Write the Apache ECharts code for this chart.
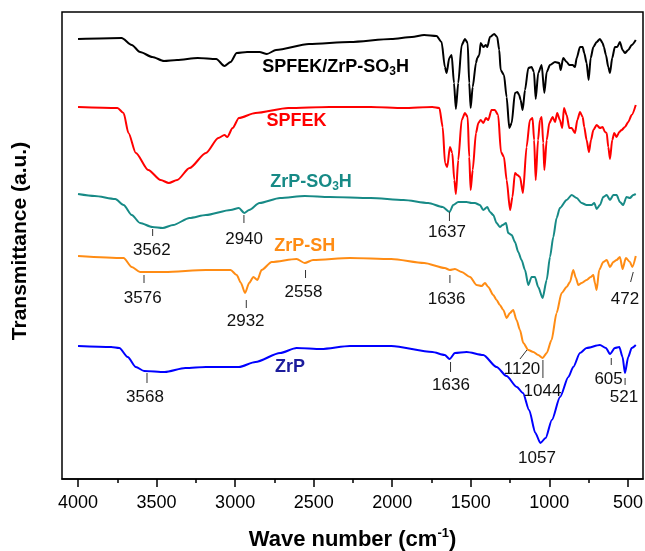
<!DOCTYPE html>
<html>
<head>
<meta charset="utf-8">
<script src="https://cdn.jsdelivr.net/npm/echarts@6/dist/echarts.min.js"></script>
<style>
html,body{margin:0;padding:0;background:#fff;}
#chart{width:645px;height:551px;}
</style>
</head>
<body>
<div id="chart"></div>
<script>
// ---- Data (wave number in cm-1, transmittance in arbitrary stacked units) ----
const waveBlack = [4000,3723,3658,3605,3527,3453,3370,3238,3120,3068,3029,2990,2924,2845,2798,2740,2530,2269,2006,1875,1797,1718,1686,1665,1654,1637,1622,1607,1595,1580,1558,1537,1520,1510,1501,1488,1467,1459,1446,1437,1420,1404,1395,1378,1351,1332,1319,1310,1289,1272,1255,1240,1219,1204,1192,1183,1170,1155,1134,1113,1098,1087,1071,1049,1032,1017,996,964,937,928,912,890,873,852,837,826,805,788,778,763,750,737,720,699,678,661,653,640,625,614,600,583,568,551,534,519,498,476,450];
const valBlack = [440,441,434,427,422,418,419,421,420,413,417,426,427,427,425,429,435,437,440,442,444,443,437,412,406,421,424,396,370,396,434,440,436,396,371,392,416,421,424,436,432,434,432,442,445,442,429,409,404,382,351,356,386,387,384,379,369,389,411,412,407,380,406,414,386,407,414,417,416,409,421,417,414,414,412,421,432,432,426,416,399,421,432,437,440,436,432,424,412,406,421,432,432,437,429,426,429,434,439];

const waveRed = [4000,3749,3710,3679,3632,3553,3474,3422,3369,3290,3186,3107,3068,3050,3016,2976,2871,2662,2400,2137,1928,1745,1700,1679,1664,1650,1633,1618,1605,1595,1580,1558,1537,1520,1510,1501,1488,1467,1452,1437,1420,1404,1389,1368,1347,1326,1308,1289,1272,1250,1235,1219,1204,1187,1168,1145,1124,1107,1097,1087,1072,1060,1049,1039,1032,1017,1000,979,964,950,933,918,907,890,873,858,837,822,805,788,778,763,748,735,720,699,678,661,646,635,625,614,600,587,572,555,540,519,498,476,450];
const valRed = [372,371,366,346,326,309,299,296,299,311,326,341,344,342,351,361,366,371,372,372,371,372,371,352,316,312,332,326,299,285,319,359,366,362,322,289,309,346,356,359,356,361,359,369,369,364,327,322,299,269,282,306,304,302,286,332,359,361,339,299,339,359,362,336,309,339,356,362,357,366,359,351,371,364,351,351,346,359,367,362,352,339,327,339,349,354,351,352,347,346,332,320,339,346,342,347,349,352,357,364,374];

const waveTeal = [4000,3894,3763,3710,3658,3605,3527,3461,3395,3290,3186,3029,2976,2942,2911,2845,2714,2557,2400,2137,1928,1771,1679,1635,1612,1580,1527,1495,1474,1442,1421,1395,1378,1357,1336,1315,1297,1276,1262,1240,1219,1198,1177,1155,1134,1113,1092,1071,1043,1017,996,975,954,933,890,858,826,795,763,731,714,699,678,657,635,614,593,572,551,530,509,487,466,450];
const valTeal = [285,283,280,274,264,256,252,251,254,261,264,269,271,266,269,276,281,283,282,281,279,276,272,267,274,277,277,276,276,274,269,272,267,264,256,252,254,256,246,244,237,227,219,209,194,202,202,192,181,199,222,242,261,271,279,284,281,276,274,274,276,270,274,282,284,279,284,284,277,274,282,281,284,285];

const waveOrange = [4000,3710,3658,3605,3448,3186,3029,2990,2963,2937,2911,2884,2858,2832,2767,2609,2557,2504,2269,2006,1797,1666,1633,1601,1558,1505,1463,1431,1410,1389,1357,1336,1315,1293,1272,1251,1230,1209,1187,1166,1134,1102,1071,1043,1017,986,954,922,890,869,848,831,816,795,763,737,720,710,699,683,657,635,614,593,572,551,534,513,487,472,450];
const valOrange = [223,221,212,207,207,209,209,204,196,186,196,202,199,209,217,220,216,219,221,220,216,211,209,210,207,202,194,193,196,192,184,179,174,169,161,166,169,159,149,136,129,127,124,121,126,139,166,186,192,197,209,201,194,196,199,202,204,196,189,209,217,219,212,217,219,222,210,221,217,212,223];

const waveBlue = [4000,3789,3737,3684,3632,3579,3448,3317,3186,2976,2871,2714,2609,2452,2269,2006,1745,1666,1635,1601,1527,1421,1336,1273,1207,1168,1129,1089,1057,1024,984,932,879,848,805,763,678,640,614,583,555,534,519,498,476,450];
const valBlue = [133,132,131,122,112,108,107,111,112,112,117,126,131,130,133,133,127,124,120,126,127,124,112,103,92,86,69,46,36,41,59,82,102,112,126,131,134,131,125,131,132,122,106,122,131,134];

const seriesNames = ['SPFEK/ZrP-SO3H','SPFEK','ZrP-SO3H','ZrP-SH','ZrP'];
const seriesColors = ['#000000','#ff0000','#178a86','#ff8c14','#0000ff'];

// axis tick labels
const majorTicks = [500,1000,1500,2000,2500,3000,3500,4000];
const minorTicks = [750,1250,1750,2250,2750,3250,3750];

// peak annotations: text, tick start [wave,val], tick end [wave,val], label [wave,val]
const annText = ['3562','2940','1637','3576','2932','2558','1636','472','1120','1044','3568','1636','1057','605','521'];
const annTickA = [[3525,250],[2944,264],[1636,267],[3580,204],[2929,179],[2552,209],[1633,204],[466,207],[1143,129],[1041,119],[3561,106],[1629,117],[1079,21],[606,121],[518,101]];
const annTickB = [[3525,243],[2944,256],[1636,258],[3580,196],[2929,171],[2552,201],[1633,196],[483,197],[1187,120],[1041,101],[3561,96],[1629,107],[1079,21],[606,114],[518,94]];
const annLabel = [[3530,229],[2943,240],[1652,247],[3588,181],[2933,158],[2565,187],[1654,180],[519,180],[1174,110],[1044,88],[3574,82],[1626,94],[1079,21],[623,100],[525,82]];

// curve name labels
const nameLabelText = ['SPFEK/ZrP-SO{sub|3}H','SPFEK','ZrP-SO{sub|3}H','ZrP-SH','ZrP'];
const nameLabelPos = [[2360,412],[2609,358],[2517,297],[2557,233],[2651,112]];
const nameLabelColor = ['#000000','#ff0000','#178a86','#ff8c14','#1c1c9c'];

const FONT = '"Liberation Sans", Arial, Helvetica, sans-serif';

function pairs(w, v){ return w.map((x,i)=>[x, v[i]]); }
const allWaves = [waveBlack, waveRed, waveTeal, waveOrange, waveBlue];
const allVals = [valBlack, valRed, valTeal, valOrange, valBlue];

const chart = echarts.init(document.getElementById('chart'), null, {renderer:'canvas'});

const lineSeries = allWaves.map((w,i)=>({
  type:'line', name: seriesNames[i], data: pairs(w, allVals[i]),
  showSymbol:false, smooth:0.25, smoothMonotone:'x',
  lineStyle:{color:seriesColors[i], width:2}, itemStyle:{color:seriesColors[i]},
  silent:true, animation:false, z:2
}));

const annSeries = {
  type:'custom', animation:false, silent:true, z:5,
  data: annText.map((t,i)=>[annTickA[i][0],annTickA[i][1],annTickB[i][0],annTickB[i][1],annLabel[i][0],annLabel[i][1]]),
  encode:{x:[0,2,4], y:[1,3,5]},
  renderItem: function(params, api){
    const a = api.coord([api.value(0), api.value(1)]);
    const b = api.coord([api.value(2), api.value(3)]);
    const l = api.coord([api.value(4), api.value(5)]);
    const children = [];
    if (Math.abs(a[0]-b[0])>0.1 || Math.abs(a[1]-b[1])>0.1) {
      children.push({type:'line', shape:{x1:a[0],y1:a[1],x2:b[0],y2:b[1]}, style:{stroke:'#333', lineWidth:1}});
    }
    children.push({type:'text', x:l[0], y:l[1], style:{text: annText[params.dataIndex], fill:'#111', font:'17px ' + FONT, align:'center', verticalAlign:'middle'}});
    return {type:'group', children};
  }
};

const nameSeries = {
  type:'custom', animation:false, silent:true, z:6,
  data: nameLabelPos.map(p=>[p[0],p[1]]),
  encode:{x:0, y:1},
  renderItem: function(params, api){
    const p = api.coord([api.value(0), api.value(1)]);
    const i = params.dataIndex;
    return {type:'text', x:p[0], y:p[1], style:{
      text: nameLabelText[i], fill: nameLabelColor[i], fontFamily: FONT, fontWeight:'bold', fontSize:18,
      lineHeight:22, align:'center', verticalAlign:'middle',
      rich:{ sub:{fontSize:12, fontWeight:'bold', fontFamily:FONT, fill:nameLabelColor[i], lineHeight:8, verticalAlign:'bottom'} }
    }};
  }
};

chart.setOption({
  animation:false,
  backgroundColor:'#ffffff',
  grid:{left:62, right:2, top:12, bottom:72, show:true, borderColor:'#000', borderWidth:1.5, containLabel:false, outerBoundsMode:'none'},
  xAxis:[{
    type:'value', min:404, max:4102, inverse:true, position:'bottom',
    axisLine:{show:true, lineStyle:{color:'#000', width:1.5}},
    axisTick:{show:true, customValues:majorTicks, length:8, lineStyle:{color:'#000', width:1.5}},
    axisLabel:{show:true, customValues:majorTicks, fontSize:18, color:'#000', fontFamily:FONT, margin:15, formatter:function(v){return String(v);}},
    splitLine:{show:false},
    name:'Wave number (cm{sup|-1})', nameLocation:'middle', nameGap:48,
    nameTextStyle:{fontSize:22, fontWeight:'bold', color:'#000', fontFamily:FONT, lineHeight:26,
      rich:{sup:{fontSize:13, fontWeight:'bold', color:'#000', fontFamily:FONT, lineHeight:16, verticalAlign:'top'}}}
  },{
    type:'value', min:404, max:4102, inverse:true, position:'bottom',
    axisLine:{show:false},
    axisTick:{show:true, customValues:minorTicks, length:4, lineStyle:{color:'#000', width:1.5}},
    axisLabel:{show:false}, splitLine:{show:false}
  }],
  yAxis:{type:'value', min:0, max:467, show:false},
  graphic:[{
    type:'text', x:20, y:241, rotation:Math.PI/2,
    style:{text:'Transmittance (a.u.)', fill:'#000', font:'bold 21px ' + FONT, align:'center', verticalAlign:'middle'}
  }],
  series: lineSeries.concat([annSeries, nameSeries])
});
</script>
</body>
</html>
